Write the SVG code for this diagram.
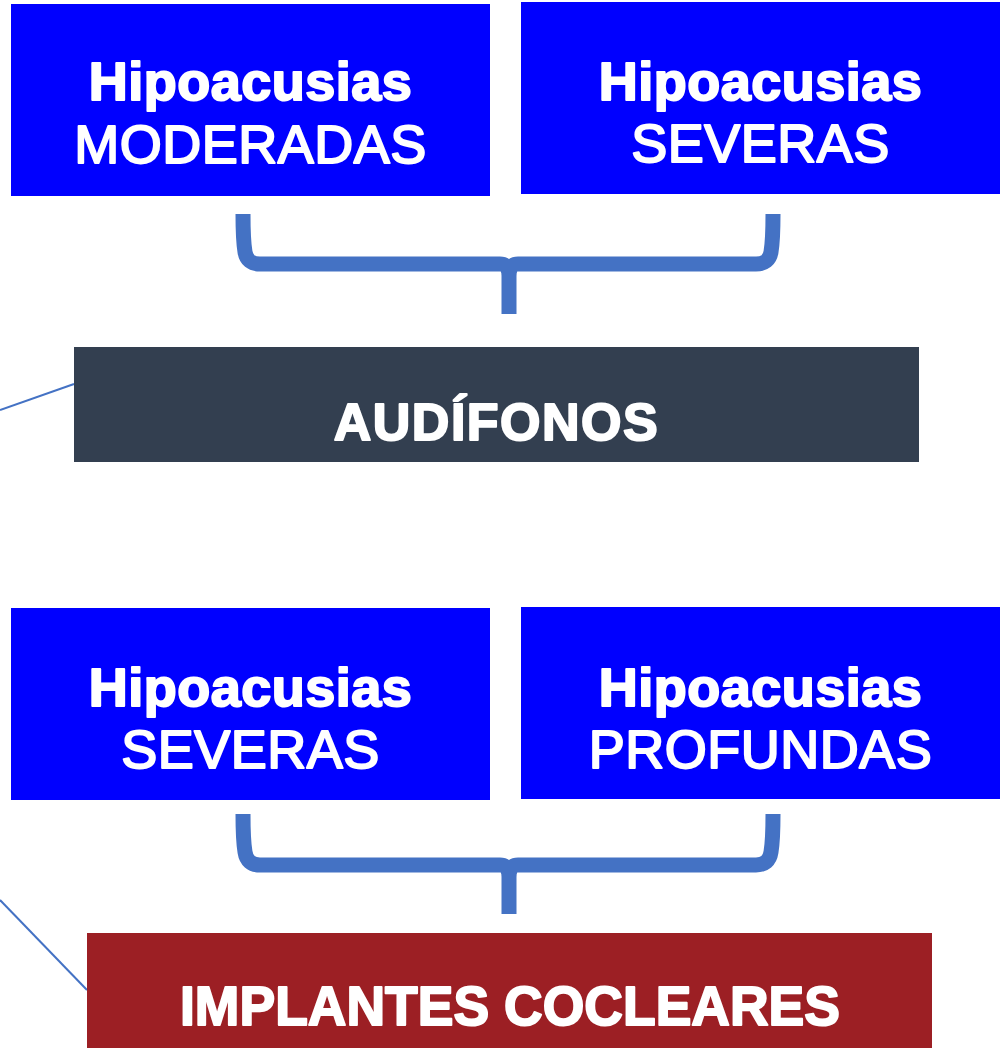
<svg xmlns="http://www.w3.org/2000/svg" width="1000" height="1048" viewBox="0 0 1000 1048">
<style>
.blue{fill:#0000FF}
.dark{fill:#333F50}
.red{fill:#9C1F24}
text{font-family:"Liberation Sans",Arial,sans-serif;fill:#FFFFFF;stroke:#FFFFFF;stroke-width:2;stroke-linejoin:round;text-anchor:middle}
.b{font-weight:bold}
.h{font-size:54px;letter-spacing:0.5px}
.brace{fill:none;stroke:#4472C4;stroke-width:15}
.conn{fill:none;stroke:#4472C4;stroke-width:2}
</style>
<rect width="1000" height="1048" fill="#FFFFFF"/>
<g id="connectors">
<path class="brace" d="M243,214 C243,236 244,246 245,252 Q247,264 260,264 L500,264 Q509,264 509,276 L509,314 M773,214 C773,236 772,246 771,252 Q769,264 756,264 L518,264 Q509,264 509,276"/>
<path class="brace" d="M243,814 C243,836 244,846 245,852 Q247,865 260,865 L500,865 Q509,865 509,877 L509,914 M773,814 C773,836 772,846 771,852 Q769,865 756,865 L518,865 Q509,865 509,877"/>
<line class="conn" x1="0" y1="410" x2="74" y2="384"/>
<line class="conn" x1="0" y1="900" x2="87" y2="990"/>
</g>
<g id="node-moderadas">
<rect class="blue" x="11" y="4" width="479" height="192"/>
<text class="h b" x="250.5" y="100">Hipoacusias</text>
<text class="h" x="250.5" y="163">MODERADAS</text>
</g>
<g id="node-severas-1">
<rect class="blue" x="521" y="2" width="479" height="192"/>
<text class="h b" x="760.5" y="100">Hipoacusias</text>
<text class="h" x="760.5" y="162">SEVERAS</text>
</g>
<g id="node-audifonos">
<rect class="dark" x="74" y="347" width="845" height="115"/>
<text class="b" x="496.5" y="440" style="font-size:52px;letter-spacing:1.5px">AUDÍFONOS</text>
</g>
<g id="node-severas-2">
<rect class="blue" x="11" y="608" width="479" height="192"/>
<text class="h b" x="250.5" y="706">Hipoacusias</text>
<text class="h" x="250.5" y="768">SEVERAS</text>
</g>
<g id="node-profundas">
<rect class="blue" x="521" y="607" width="479" height="192"/>
<text class="h b" x="760.5" y="706">Hipoacusias</text>
<text class="h" x="760.5" y="768">PROFUNDAS</text>
</g>
<g id="node-implantes">
<rect class="red" x="87" y="933" width="845" height="115"/>
<text class="b" x="510" y="1025" style="font-size:56px" textLength="660" lengthAdjust="spacingAndGlyphs">IMPLANTES COCLEARES</text>
</g>
</svg>
